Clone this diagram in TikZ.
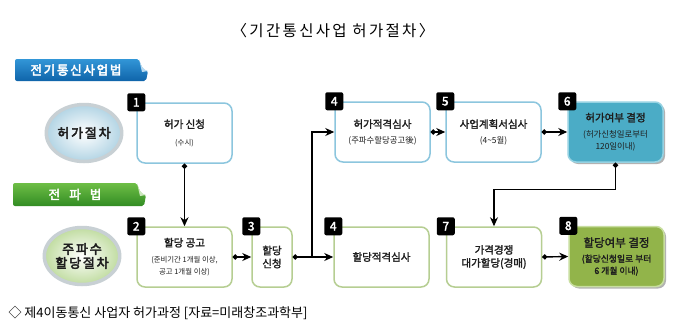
\documentclass[tikz,border=0pt]{standalone}
\usepackage{fontspec}
\setmainfont{Noto Sans CJK KR}
\newfontfamily\lawfont{Noto Sans CJK KR}[FakeBold=3.5,LetterSpace=14]
\newfontfamily\headfont{Noto Sans CJK KR}[FakeBold=2]
\newfontfamily\titlefont{Noto Sans CJK KR}[LetterSpace=15]
\usepackage{xcolor}
\usepackage{tikz}
\usetikzlibrary{arrows.meta,shapes,positioning}
\definecolor{edgeblue}{RGB}{140,198,222}
\definecolor{edgegreen}{RGB}{182,206,146}
\definecolor{tealfill}{RGB}{75,172,198}
\definecolor{tealedge}{RGB}{150,210,226}
\definecolor{olivefill}{RGB}{146,180,74}
\definecolor{oliveedge}{RGB}{200,222,160}
\definecolor{bantop}{RGB}{50,150,215}
\definecolor{banbot}{RGB}{15,100,170}
\definecolor{gbantop}{RGB}{110,190,70}
\definecolor{gbanbot}{RGB}{50,140,35}
\definecolor{inkgray}{RGB}{30,30,30}
\definecolor{ringgray}{RGB}{200,208,212}
\definecolor{blueglow}{RGB}{178,212,228}
\definecolor{greenglow}{RGB}{192,220,160}
\newcommand\boxhead{\headfont\fontsize{10.5}{12}\selectfont}
\newcommand\boxnote{\normalfont\fontsize{8.4}{10}\selectfont}
\newcommand\smallnote{\normalfont\fontsize{7.4}{9}\selectfont}
\newcommand\dechead{\headfont\fontsize{11.5}{13}\selectfont}
\newcommand\decnote{\headfont\fontsize{8.8}{10.5}\selectfont}

\begin{document}
\begin{tikzpicture}[x=1pt,y=-1pt,
permitbox/.style={draw=edgeblue,line width=1.5pt,rounded corners=8pt,fill=white,minimum width=95pt,minimum height=60pt,align=center,text=inkgray,inner sep=1pt},
allocbox/.style={permitbox,draw=edgegreen},
tagsq/.style={fill=black,rounded corners=2pt,minimum size=18pt,inner sep=0pt,text=white,font=\headfont\fontsize{12}{12}\selectfont},
lawcircle/.style={ellipse,minimum width=66pt,minimum height=57pt,inner sep=0pt,draw=ringgray,line width=3.5pt,align=center,text=inkgray,font=\lawfont\fontsize{13}{15}\selectfont},
link/.style={line width=1.4pt,{Circle[length=5pt]}-{Stealth[length=9pt,width=8pt]}}]
\useasboundingbox[fill=white](0,0)rectangle(680,327);
\node[font=\titlefont\fontsize{15.5}{18}\selectfont] (title) at (333,31) {〈기간통신사업 허가절차〉};
% law banners
\shade[top color=bantop,bottom color=banbot,rounded corners=2pt](15,59)--(139,59)..controls(141,66)and(143,70)..(148,71)--(146,81)--(15,81)--cycle;
\fill[bantop!35!white](139,59)..controls(141,66)and(143,70)..(148,71)--(142,72)--cycle;
\node[text=white,font=\lawfont\fontsize{12.5}{14}\selectfont] (telecomlaw) at (76,70) {전기통신사업법};
\shade[top color=gbantop,bottom color=gbanbot,rounded corners=2pt](13,183)--(137,183)..controls(139,190)and(141,194)..(146,195)--(144,206)--(13,206)--cycle;
\fill[gbantop!35!white](137,183)..controls(139,190)and(141,194)..(146,195)--(140,196)--cycle;
\node[text=white,font=\lawfont\fontsize{12.5}{14}\selectfont] (radiolaw) at (75,194.5) {전\ \ 파\ \ 법};
\node[lawcircle,inner color=white,outer color=blueglow] (permitproc) at (84,133) {허가절차};
\node[lawcircle,inner color=white,outer color=greenglow] (allocproc) at (82,256) {주파수\\[-1pt]할당절차};
% shadows of the two result boxes
\fill[black,opacity=0.3,rounded corners=8pt](570,104)rectangle(665,164);
\fill[black,opacity=0.3,rounded corners=8pt](571,228.5)rectangle(666,288.5);
% upper row
\node[permitbox] (apply) at (184.5,133) {\boxhead 허가 신청\\[5pt]\smallnote (수시)};
\node[permitbox] (permitchk) at (382.5,132) {\boxhead 허가적격심사\\[3pt]\boxnote (주파수할당공고後)};
\node[permitbox] (bizplan) at (493.5,132) {\boxhead 사업계획서심사\\[3pt]\boxnote (4\textasciitilde 5월)};
\node[permitbox,draw=tealedge,fill=tealfill] (permitdec) at (615.5,132) {\boxhead 허가여부 결정\\[4pt]\boxnote (허가신청일로부터\\\boxnote 120일이내)};
% lower row
\node[allocbox] (notice) at (184.5,257) {\boxhead 할당 공고\\[4pt]\smallnote (준비기간 1개월 이상,\\\smallnote 공고 1개월 이상)};
\node[allocbox,minimum width=40pt] (request) at (272,257) {\boxhead 할당\\[1pt]\boxhead 신청};
\node[allocbox] (allocchk) at (381.5,257) {\boxhead 할당적격심사};
\node[allocbox] (auction) at (494,257) {\boxhead 가격경쟁\\[1pt]\boxhead 대가할당(경매)};
\node[allocbox,draw=oliveedge,fill=olivefill] (allocdec) at (616.5,256.5) {\dechead 할당여부 결정\\[3pt]\decnote (할당신청일로 부터\\\decnote 6 개월 이내)};
% step numbers
\node[tagsq] (n1) at (apply.north west) {1};
\node[tagsq] (n2) at (notice.north west) {2};
\node[tagsq] (n3) at (request.north west) {3};
\node[tagsq] (n4a) at (permitchk.north west) {4};
\node[tagsq] (n4b) at (allocchk.north west) {4};
\node[tagsq] (n5) at (bizplan.north west) {5};
\node[tagsq] (n6) at (permitdec.north west) {6};
\node[tagsq] (n7) at (auction.north west) {7};
\node[tagsq] (n8) at (allocdec.north west) {8};
% connectors
\coordinate (fork) at (312,257);
\path (permitdec.south) ++(0,27) coordinate (turn);
\draw[link](apply.south)--(notice.north);
\draw[link](notice.east)--(request.west);
\draw[link](request.east)--(allocchk.west);
\draw[line width=1.4pt,-{Stealth[length=9pt,width=8pt]}](fork)|-(permitchk.west);
\draw[link](permitchk.east)--(bizplan.west);
\draw[link](bizplan.east)--(permitdec.west);
\draw[link](permitdec.south)--(turn)-|(auction.north);
\draw[link](auction.east)--(allocdec.west);
\node[anchor=west,font=\fontsize{13}{15}\selectfont] (source) at (5,313) {◇ 제4이동통신 사업자 허가과정 [자료=미래창조과학부]};
\end{tikzpicture}
\end{document}
